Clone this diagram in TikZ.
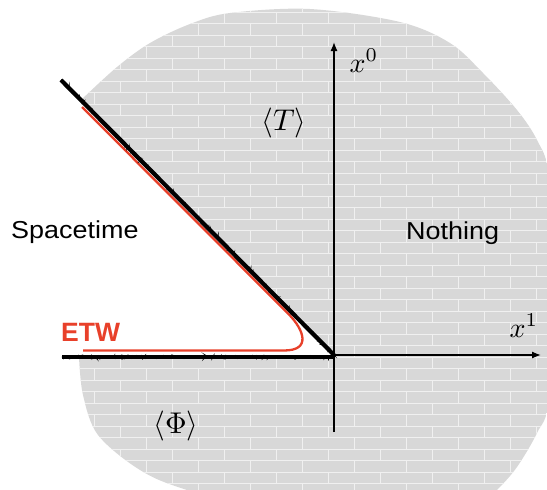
\documentclass[tikz,border=0pt]{standalone}
\usepackage{fontspec}
\usetikzlibrary{arrows.meta,decorations.pathmorphing}
\newfontfamily\widesans[FakeStretch=1.1]{Liberation Sans}
\newfontfamily\plainsans{Liberation Sans}
\definecolor{brick}{RGB}{216,216,216}
\definecolor{mortar}{RGB}{240,240,240}
\definecolor{etwred}{RGB}{232,64,42}
\tikzset{
  mortarline/.style={draw=mortar,line width=1pt},
  wallline/.style={line width=4.2pt,black},
  fuzz/.style={line width=1.4pt,black,decorate,decoration={random steps,segment length=0.9pt,amplitude=0.9pt}},
  axisline/.style={line width=1.3pt,black,-{Latex[length=9pt,width=7pt]}},
  sanslabel/.style={font=\widesans\fontsize{24.5}{28}\selectfont,anchor=base west,inner sep=0pt},
  mathlabel/.style={inner sep=0pt,scale=3},
}
\begin{document}
\begin{tikzpicture}[x=1pt,y=-1pt]
\useasboundingbox (0,0) rectangle (547,490);
\clip (0,0) rectangle (547,490);
\pgfmathsetseed{7}
% blob with brick pattern
\begin{scope}
\clip plot[smooth,tension=0.55] coordinates {(81,100) (117,67) (150,43) (190,24) (230,13) (310,9) (400,22) (450,43) (483,73) (517,110) (537,140) (549,175) (556,280) (549,400) (537,433) (517,467) (497,490) (470,515) (300,522) (187,490) (140,470) (98,435) (83,395) (79,357)} -- (334,357) -- cycle;
\fill[brick] (0,0) rectangle (547,490);
\foreach \k in {0,...,43}{
  \pgfmathsetmacro\yy{0.7+11.5*\k}
  \pgfmathsetmacro\off{mod(\k,2)*26-10}
  \draw[mortarline] (0,\yy) -- (547,\yy);
  \foreach \j in {0,...,11}{
    \draw[mortarline] ({\off+52*\j},\yy) -- ++(0,11.5);
  }
}
\end{scope}
% coordinates
\coordinate (O) at (334,355);
\coordinate (ytop) at (334,42);
\coordinate (ybot) at (334,432);
\coordinate (xright) at (541,355);
\coordinate (dtop) at (61,80);
\coordinate (dend) at (334,355);
\coordinate (hleft) at (62,357);
\coordinate (hend) at (334,357);
% axes
\draw[axisline] (ybot) -- (ytop);
\draw[axisline] (O) -- (xright);
% red ETW curve
\coordinate (r1) at (82,107);
\coordinate (r2) at (289,314.5);
\coordinate (r3) at (284,350.5);
\coordinate (r4) at (83,350.5);
\draw[etwred,line width=2.3pt] (r1) -- (r2) .. controls (303.5,329.5) and (312,350.5) .. (r3) -- (r4);
% thick rough walls
\draw[wallline] (dtop) -- (dend);
\draw[fuzz] (dtop) -- (dend);
\draw[fuzz] (dtop) -- (dend);
\draw[wallline] (hleft) -- (hend);
\draw[fuzz] (hleft) -- (hend);
\draw[fuzz] (hleft) -- (hend);
% labels
\node[sanslabel] (spacetime) at (11,238) {Spacetime};
\node[sanslabel] (nothing) at (406,239) {Nothing};
\node[font=\plainsans\bfseries\fontsize{26.5}{30}\selectfont,text=etwred,anchor=base west,inner sep=0pt] (etw) at (61,341.7) {ETW};
\node[mathlabel] (T) at (284,123) {$\langle T\rangle$};
\node[mathlabel] (Phi) at (176,426) {$\langle \Phi\rangle$};
\node[inner sep=0pt,scale=2.8,anchor=base west] (x0) at (349,72) {$x^0$};
\node[inner sep=0pt,scale=2.8,anchor=base west] (x1) at (509,337) {$x^1$};
\end{tikzpicture}
\end{document}
